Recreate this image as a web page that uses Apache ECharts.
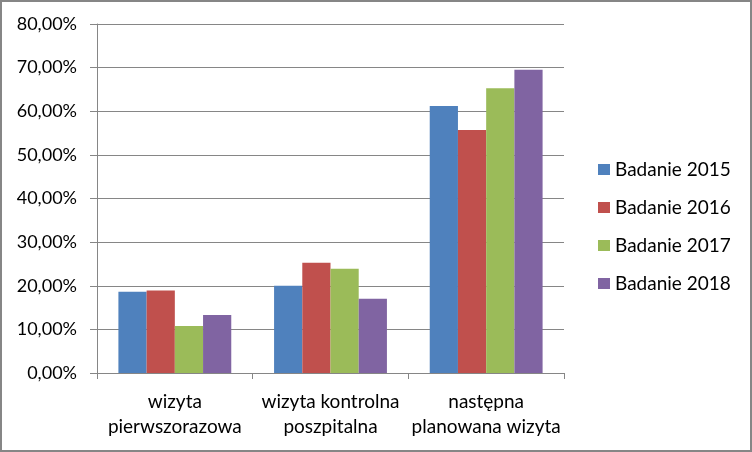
<!DOCTYPE html>
<html>
<head>
<meta charset="utf-8">
<script src="https://cdn.jsdelivr.net/npm/echarts@6/dist/echarts.min.js"></script>
<style>
  html, body { margin: 0; padding: 0; background: #fff; }
  #chart { width: 752px; height: 452px; }
</style>
</head>
<body>
<div id="chart"></div>
<script>
// kategorie i wartości (w %)
const categories = ["wizyta\npierwszorazowa", "wizyta kontrolna\nposzpitalna", "następna\nplanowana wizyta"]
const seriesNames = ["Badanie 2015", "Badanie 2016", "Badanie 2017", "Badanie 2018"]
const badanie2015 = [18.6, 20.0, 61.2]
const badanie2016 = [18.9, 25.3, 55.7]
const badanie2017 = [10.8, 23.9, 65.3]
const badanie2018 = [13.3, 17.0, 69.5]
const colors = ["#4F81BD", "#C0504D", "#9BBB59", "#8064A2"]

const font = "Lato"
const gray = "#868686"

let myChart = echarts.init(document.getElementById("chart"))
let values = [badanie2015, badanie2016, badanie2017, badanie2018]

let option = {
  animation: false,
  backgroundColor: "#fff",
  textStyle: { fontFamily: font },
  graphic: [
    {
      type: "rect",
      shape: { x: 1, y: 1, width: 750, height: 450 },
      style: { fill: "none", stroke: gray, lineWidth: 2 },
      silent: true,
    },
  ],
  legend: {
    orient: "vertical",
    left: 598,
    top: 160,
    padding: 0,
    itemWidth: 12,
    itemHeight: 11,
    itemGap: 19,
    icon: "rect",
    data: seriesNames,
    textStyle: { fontFamily: font, fontSize: 19, lineHeight: 18, color: "#000" },
  },
  grid: {
    left: 97,
    right: 188,
    top: 24,
    bottom: 79,
    containLabel: false,
  },
  xAxis: {
    type: "category",
    data: categories,
    axisLine: { lineStyle: { color: gray, width: 1 } },
    axisTick: { show: true, length: 6, lineStyle: { color: gray } },
    axisLabel: {
      color: "#000",
      fontFamily: font,
      fontSize: 19,
      lineHeight: 25,
      margin: 16,
      interval: 0,
    },
  },
  yAxis: {
    type: "value",
    min: 0,
    max: 80,
    interval: 10,
    axisLine: { show: true, lineStyle: { color: gray, width: 1 } },
    axisTick: { show: true, length: 7, lineStyle: { color: gray } },
    splitLine: { lineStyle: { color: gray, width: 1 } },
    axisLabel: {
      color: "#000",
      fontFamily: font,
      fontSize: 18,
      margin: 20,
      formatter: (v) => v.toFixed(2).replace(".", ",") + "%",
    },
  },
  series: seriesNames.map((name, i) => ({
    name: name,
    type: "bar",
    data: values[i],
    barGap: "0%",
    barCategoryGap: "27.5%",
    itemStyle: { color: colors[i] },
  })),
}
myChart.setOption(option)
</script>
</body>
</html>
